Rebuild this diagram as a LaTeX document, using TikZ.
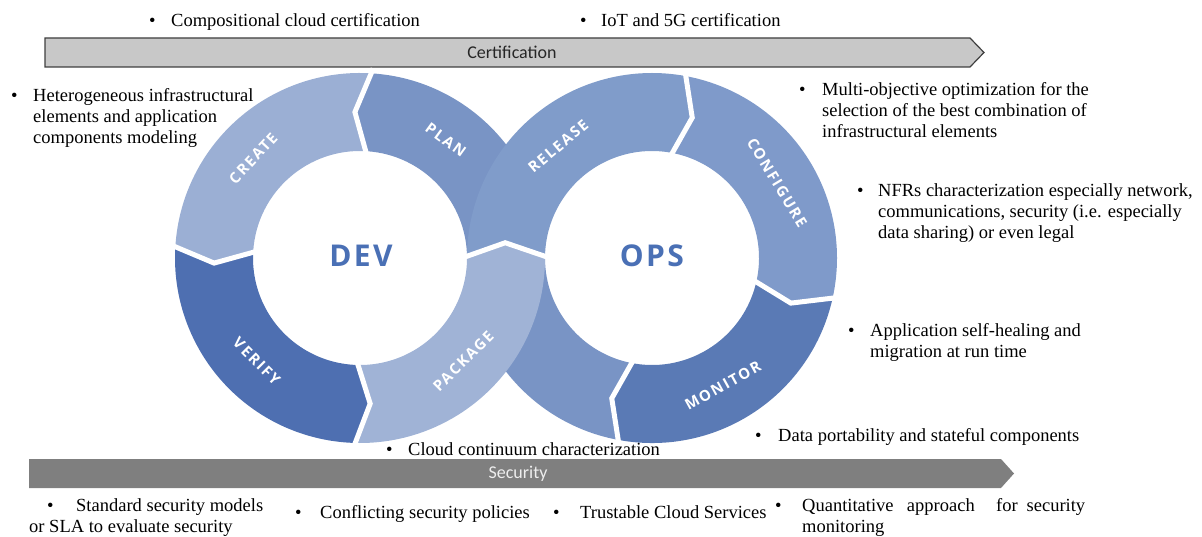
\documentclass[tikz,border=0pt]{standalone}
\usepackage{fontspec}
\setmainfont{Liberation Serif}
\newfontfamily\barfont{Carlito}
\newfontfamily\ringfont[LetterSpace=12]{Open Sans}
\newfontfamily\hubfont[LetterSpace=8]{Open Sans}
\usetikzlibrary{calc}

\definecolor{plancol}{HTML}{7994C5}
\definecolor{createcol}{HTML}{9BAFD4}
\definecolor{verifycol}{HTML}{4E6FB1}
\definecolor{packagecol}{HTML}{A0B3D6}
\definecolor{releasecol}{HTML}{809CCA}
\definecolor{configcol}{HTML}{7F9ACA}
\definecolor{monitorcol}{HTML}{5A7AB5}
\definecolor{hubcol}{HTML}{4A70B5}
\definecolor{certfill}{HTML}{C8C8C8}
\definecolor{certedge}{HTML}{3F3F3F}
\definecolor{secfill}{HTML}{7F7F7F}
\definecolor{sectext}{HTML}{EEEEEE}

% ring geometry (pt)
\def\Ro{185}
\def\Ri{107}
\def\Rm{146}
\def\Rgo{190}
\def\Rgi{102}
\def\dl{6}

% bullet box and indentation
\newcommand\bul[1]{\makebox[#1pt][l]{\textbullet}}
\newcommand\ind[1]{\hspace*{#1pt}}
\newenvironment{lines}{\begin{tabular}[t]{@{}l@{}}}{\end{tabular}}

% one ring segment: centre, start angle, end angle, direction (+1 ccw / -1 cw), colour
\newcommand\ringseg[5]{%
  \fill[#5] ($(#1)+(#2:\Ro pt)$)
    arc[start angle=#2, end angle=#3, radius=\Ro pt]
    -- ($(#1)+({#3+#4*\dl}:\Rm pt)$)
    -- ($(#1)+(#3:\Ri pt)$)
    arc[start angle=#3, end angle=#2, radius=\Ri pt]
    -- ($(#1)+({#2+#4*\dl}:\Rm pt)$) -- cycle;}
% white chevron gap between two segments: centre, angle, direction
\newcommand\ringgap[3]{%
  \draw[gapline] ($(#1)+(#2:\Rgo pt)$)
    -- ($(#1)+({#2+#3*\dl}:\Rm pt)$)
    -- ($(#1)+(#2:\Rgi pt)$);}

\begin{document}
\begin{tikzpicture}[x=1pt,y=1pt,
  gapline/.style={white, line width=5pt, line join=miter},
  seglabel/.style={text=white, inner sep=0pt, font=\ringfont\bfseries\fontsize{15}{15}\selectfont},
  hub/.style={text=hubcol, inner sep=0pt, font=\hubfont\bfseries\fontsize{30}{30}\selectfont},
  note/.style={anchor=base west, inner sep=0pt, font=\fontsize{18.5}{21}\selectfont},
  barlabel/.style={inner sep=0pt, font=\barfont\fontsize{18}{18}\selectfont}]
\useasboundingbox (0,0) rectangle (1202,-537);

% ---- certification bar ----
\filldraw[fill=certfill, draw=certedge, line width=1.2pt]
  (45,-38) -- (970,-38) -- (984,-52.5) -- (970,-67) -- (45,-67) -- cycle;
\node[barlabel, text=black!85] (cert) at (512,-52.5) {Certification};

% ---- security bar ----
\fill[secfill] (29,-459) -- (1001,-459) -- (1014,-473.5) -- (1001,-488) -- (29,-488) -- cycle;
\node[barlabel, text=sectext] (sec) at (518,-473.5) {Security};

% ---- infinity loop ----
\coordinate (D) at (360,-258);
\coordinate (O) at (652,-258);

% PLAN runs from the bottom of OPS through the crossing to the top of DEV
\fill[plancol] ($(O)+(-100:\Ro pt)$)
  arc[start angle=-100, end angle=-180, radius=\Ro pt]
  -- ($(D)+(0:\Ri pt)$)
  arc[start angle=0, end angle=86, radius=\Ri pt]
  -- ($(D)+(92:\Rm pt)$)
  -- ($(D)+(86:\Ro pt)$)
  arc[start angle=86, end angle=0, radius=\Ro pt]
  -- ($(O)+(180:\Ri pt)$)
  arc[start angle=180, end angle=260, radius=\Ri pt]
  -- ($(O)+(-106:\Rm pt)$) -- cycle;
\ringseg{D}{86}{176}{1}{createcol}
\ringseg{D}{176}{268}{1}{verifycol}
\ringseg{O}{80}{-12}{-1}{configcol}
\ringseg{O}{-12}{-100}{-1}{monitorcol}
\ringseg{O}{180}{80}{-1}{releasecol}
\ringseg{D}{-92}{0}{1}{packagecol}

\ringgap{D}{86}{1}
\ringgap{D}{176}{1}
\ringgap{D}{268}{1}
\ringgap{D}{0}{1}
\ringgap{O}{80}{-1}
\ringgap{O}{-12}{-1}
\ringgap{O}{-100}{-1}

\node[seglabel, rotate=-36] (lplan) at ($(D)+(54:\Rm pt)$) {PLAN};
\node[seglabel, rotate=47] (lcreate) at ($(D)+(137:\Rm pt)$) {CREATE};
\node[seglabel, rotate=-45] (lverify) at ($(D)+(225:\Rm pt)$) {VERIFY};
\node[seglabel, rotate=45] (lpackage) at ($(D)+(-45:\Rm pt)$) {PACKAGE};
\node[seglabel, rotate=40] (lrelease) at ($(O)+(130:\Rm pt)$) {RELEASE};
\node[seglabel, rotate=-59] (lconfig) at ($(O)+(31:\Rm pt)$) {CONFIGURE};
\node[seglabel, rotate=29] (lmonitor) at ($(O)+(-61:\Rm pt)$) {MONITOR};

\node[hub] (dev) at (361,-256) {DEV};
\node[hub] (ops) at (652,-256) {OPS};

% ---- notes ----
\node[note] (ncomp) at (149,-27) {\bul{22}Compositional cloud certification};
\node[note] (niot) at (580,-27) {\bul{21}IoT and 5G certification};
\node[note] (nhet) at (11,-102) {\begin{lines}\bul{22}Heterogeneous infrastructural\\ \ind{22}elements and application\\ \ind{22}components modeling\end{lines}};
\node[note] (nmulti) at (799,-96) {\begin{lines}\bul{23}Multi-objective optimization for the\\ \ind{23}selection of the best combination of\\ \ind{23}infrastructural elements\end{lines}};
\node[note] (nnfr) at (857,-197) {\begin{lines}\bul{21}NFRs characterization especially network,\\ \ind{21}communications, security (i.e. especially\\ \ind{21}data sharing) or even legal\end{lines}};
\node[note] (napp) at (848,-336) {\begin{lines}\bul{22}Application self-healing and\\ \ind{22}migration at run time\end{lines}};
\node[note] (ndata) at (755,-441) {\bul{23}Data portability and stateful components};
\node[note] (ncloud) at (386,-455) {\bul{22}Cloud continuum characterization};
\node[note] (nstd) at (29,-511) {\begin{lines}\ind{18}\bul{29}Standard security models\\ or SLA to evaluate security\end{lines}};
\node[note] (nconf) at (295,-518) {\bul{25}Conflicting security policies};
\node[note] (ntrust) at (553,-518) {\bul{27}Trustable Cloud Services};
\node[note] (nquant) at (775,-511) {\begin{lines}\bul{27}\makebox[283pt][l]{Quantitative\hspace{0pt plus 5fill}approach\hspace{0pt plus 8fill}for\hspace{9pt}security}\\ \ind{27}monitoring\end{lines}};
\end{tikzpicture}
\end{document}
